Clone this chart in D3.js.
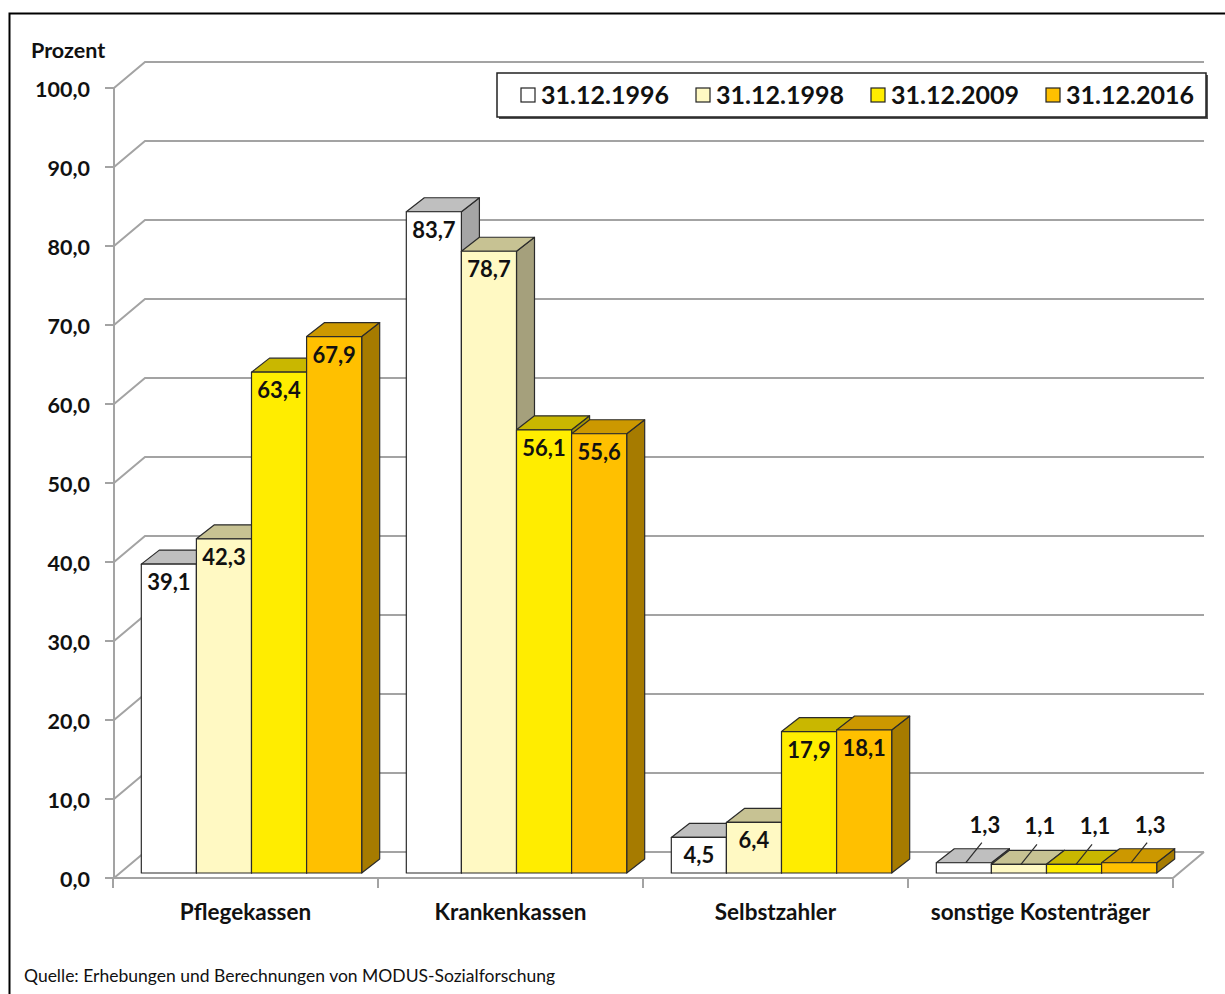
<!DOCTYPE html>
<html>
<head>
<meta charset="utf-8">
<script src="https://cdn.jsdelivr.net/npm/d3@7"></script>
<style>
  body { margin: 0; background: #fff; }
  svg text { font-family: Lato, "Open Sans", sans-serif; fill: #111; }
</style>
</head>
<body>
<div class="chart"></div>
<script>
// Kostenträger, Anteil in Prozent
var categories = ['Pflegekassen', 'Krankenkassen', 'Selbstzahler', 'sonstige Kostenträger'];
var series = ['31.12.1996', '31.12.1998', '31.12.2009', '31.12.2016'];
var v1996 = [39.1, 83.7, 4.5, 1.3];
var v1998 = [42.3, 78.7, 6.4, 1.1];
var v2009 = [63.4, 56.1, 17.9, 1.1];
var v2016 = [67.9, 55.6, 18.1, 1.3];
var yTicks = [0, 10, 20, 30, 40, 50, 60, 70, 80, 90, 100];

var values = [v1996, v1998, v2009, v2016];
var front = ['#ffffff', '#fff9c3', '#ffed00', '#ffc000'];
var top_ = ['#bfbfbf', '#c7c293', '#c9b700', '#cc9800'];
var side = ['#a5a5a5', '#a5a07c', '#a69700', '#a67b00'];

var W = 1225, H = 994;
var wall = [31, -26];     // depth of the 3d walls
var off = [6, -5];        // bars sit a bit behind the front plane
var depth = [18, -14];    // bar depth

var de = d3.formatLocale({ decimal: ',', thousands: '.', grouping: [3], currency: ['', '€'] });
var fmt = de.format('.1f');

var svg = d3.select('.chart')
    .append('svg')
        .attr('width', W)
        .attr('height', H);

// frame
svg.append('rect')
    .attr('x', 9.5).attr('y', 13.5)
    .attr('width', 1300).attr('height', 1100)
    .attr('fill', 'none')
    .attr('stroke', '#000')
    .attr('stroke-width', 2);

var x = d3.scaleBand().domain(categories).range([113, 1173]);
var xi = d3.scaleBand().domain(series).range([0, x.bandwidth()]).paddingOuter(0.405);
var y = d3.scaleLinear().domain([0, 100]).range([878, 88]);

var x0 = 114, xEnd = x.range()[1];

// gridlines on left + back wall
svg.append('g').selectAll('path')
    .data(yTicks)
    .enter()
        .append('path')
        .attr('d', d => 'M' + x0 + ',' + y(d) + 'L' + (x0 + wall[0]) + ',' + (y(d) + wall[1]) + 'H' + (xEnd + wall[0]))
        .attr('fill', 'none')
        .attr('stroke', '#a3a3a3')
        .attr('stroke-width', 2);

// floor
svg.append('path')
    .attr('d', 'M' + x0 + ',' + y(0) + 'H' + xEnd + 'L' + (xEnd + wall[0]) + ',' + (y(0) + wall[1]))
    .attr('fill', 'none')
    .attr('stroke', '#a3a3a3')
    .attr('stroke-width', 2);

// y axis line + ticks
svg.append('line')
    .attr('x1', x0).attr('x2', x0)
    .attr('y1', y(100)).attr('y2', y(0))
    .attr('stroke', '#a3a3a3').attr('stroke-width', 2);

var yAxis = svg.append('g').selectAll('g')
    .data(yTicks)
    .enter()
        .append('g');
yAxis.append('line')
    .attr('x1', x0 - 9).attr('x2', x0)
    .attr('y1', d => y(d)).attr('y2', d => y(d))
    .attr('stroke', '#a3a3a3').attr('stroke-width', 2);
yAxis.append('text')
    .attr('x', 90)
    .attr('y', d => y(d) + 9)
    .attr('text-anchor', 'end')
    .attr('font-size', 21.5)
    .attr('font-weight', 'bold')
    .text(d => fmt(d));

svg.append('text')
    .attr('x', 31).attr('y', 58)
    .attr('font-size', 21.5)
    .attr('font-weight', 'bold')
    .text('Prozent');

// category ticks + labels
var catEdges = categories.map(d => x(d)).concat([xEnd]);
svg.append('g').selectAll('line')
    .data(catEdges)
    .enter()
        .append('line')
        .attr('x1', d => d).attr('x2', d => d)
        .attr('y1', y(0) + 1).attr('y2', y(0) + 10)
        .attr('stroke', '#a3a3a3').attr('stroke-width', 2);

svg.append('g').selectAll('text')
    .data(categories)
    .enter()
        .append('text')
        .attr('x', d => x(d) + x.bandwidth() / 2)
        .attr('y', 920)
        .attr('text-anchor', 'middle')
        .attr('font-size', 22.5)
        .attr('font-weight', 'bold')
        .text(d => d);

// bars, drawn category by category, left to right
var bars = [];
categories.forEach((c, ci) => {
    series.forEach((s, si) => {
        bars.push({ cat: c, s: s, si: si, v: values[si][ci] });
    });
});

function pts(a) { return 'M' + a.map(p => p.join(',')).join('L') + 'Z'; }

var bar = svg.append('g').selectAll('g')
    .data(bars)
    .enter()
        .append('g');

bar.each(function(d) {
    var g = d3.select(this);
    var bx = x(d.cat) + xi(d.s) + off[0];
    var bw = xi.bandwidth();
    var yt = y(d.v) + off[1];
    var yb = y(0) + off[1];
    d.bx = bx; d.bw = bw; d.yt = yt;

    g.append('path')
        .attr('d', pts([[bx + bw, yt], [bx + bw + depth[0], yt + depth[1]], [bx + bw + depth[0], yb + depth[1]], [bx + bw, yb]]))
        .attr('fill', side[d.si]);
    g.append('path')
        .attr('d', pts([[bx, yt], [bx + bw, yt], [bx + bw + depth[0], yt + depth[1]], [bx + depth[0], yt + depth[1]]]))
        .attr('fill', top_[d.si]);
    g.append('rect')
        .attr('x', bx).attr('y', yt)
        .attr('width', bw).attr('height', yb - yt)
        .attr('fill', front[d.si]);
    g.selectAll('path, rect')
        .attr('stroke', '#2b2b2b')
        .attr('stroke-width', 1.2)
        .attr('stroke-linejoin', 'round');
});

// value labels: inside the bar, or above with a leader when the bar is flat
bar.filter(d => d.v >= 3)
    .append('text')
    .attr('x', d => d.bx + d.bw / 2)
    .attr('y', d => d.yt + 26)
    .attr('text-anchor', 'middle')
    .attr('font-size', 22)
    .attr('font-weight', 'bold')
    .text(d => fmt(d.v));

var flat = bar.filter(d => d.v < 3);
flat.append('line')
    .attr('x1', d => d.bx + d.bw / 2 + 2).attr('y1', d => d.yt)
    .attr('x2', d => d.bx + d.bw / 2 + 18).attr('y2', d => d.yt - 20)
    .attr('stroke', '#2b2b2b').attr('stroke-width', 1.2);
flat.append('text')
    .attr('x', d => d.bx + d.bw / 2 + 21)
    .attr('y', d => d.yt - 30)
    .attr('text-anchor', 'middle')
    .attr('font-size', 22)
    .attr('font-weight', 'bold')
    .text(d => fmt(d.v));

// legend
var lg = svg.append('g');
lg.append('rect')
    .attr('x', 499).attr('y', 75)
    .attr('width', 709).attr('height', 44)
    .attr('fill', '#555');
lg.append('rect')
    .attr('x', 497).attr('y', 73)
    .attr('width', 709).attr('height', 44)
    .attr('fill', '#fff')
    .attr('stroke', '#222')
    .attr('stroke-width', 1.5);

var item = lg.selectAll('g.item')
    .data(series)
    .enter()
        .append('g')
        .attr('class', 'item')
        .attr('transform', (d, i) => 'translate(' + (521 + i * 175) + ', 88)');
item.append('rect')
    .attr('width', 14).attr('height', 14)
    .attr('fill', (d, i) => front[i])
    .attr('stroke', '#222').attr('stroke-width', 1.2);
item.append('text')
    .attr('x', 20).attr('y', 16)
    .attr('font-size', 25)
    .attr('font-weight', 'bold')
    .text(d => d);

svg.append('text')
    .attr('x', 24).attr('y', 982)
    .attr('font-size', 17.5)
    .text('Quelle: Erhebungen und Berechnungen von MODUS-Sozialforschung');
</script>
</body>
</html>
